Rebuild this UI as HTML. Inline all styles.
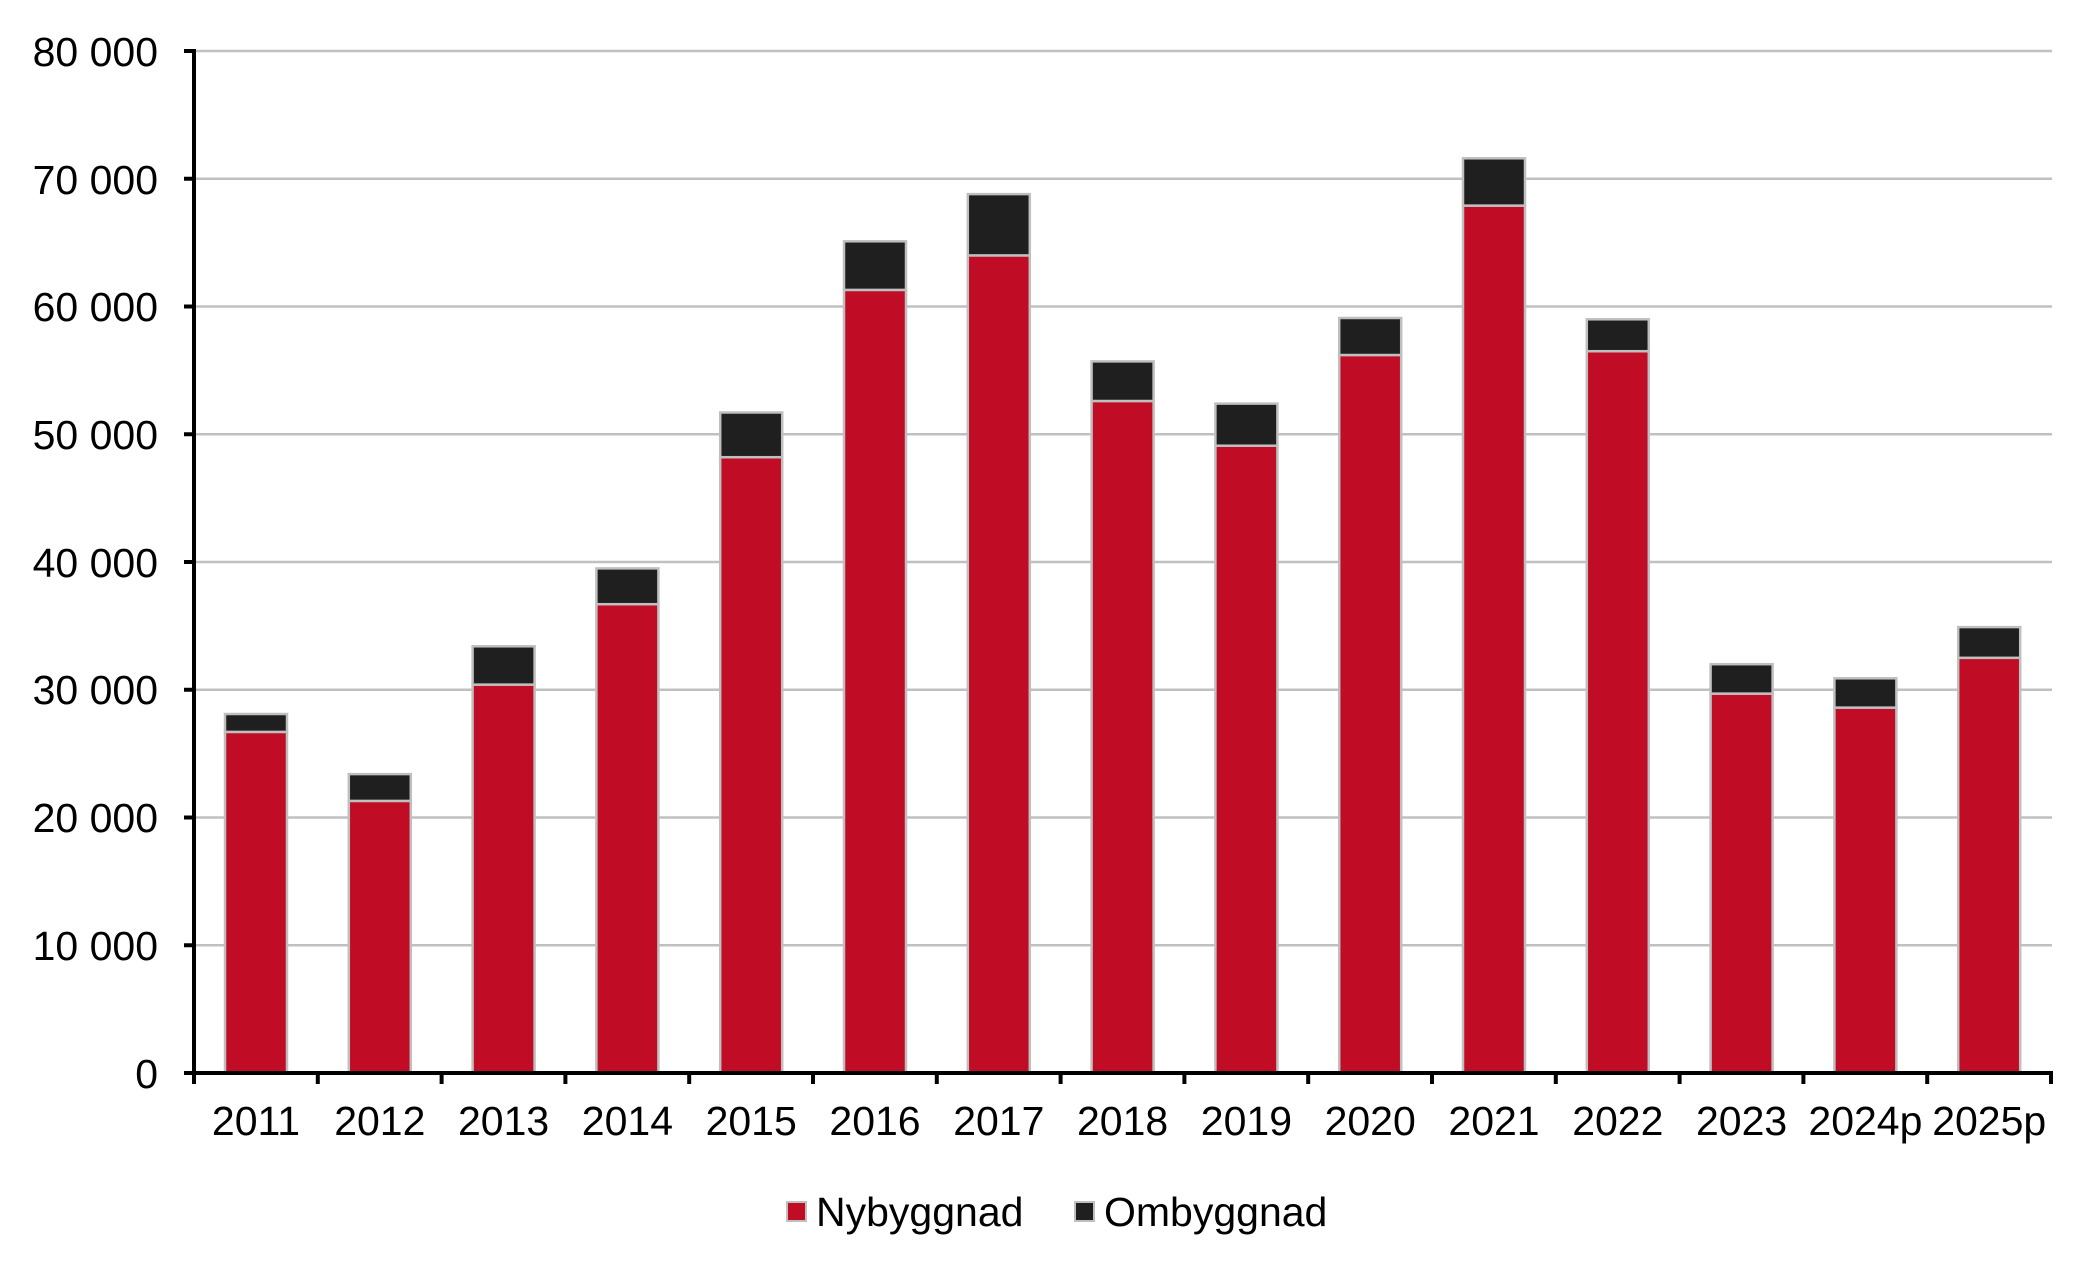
<!DOCTYPE html>
<html><head><meta charset="utf-8"><style>
html,body{margin:0;padding:0;background:#fff;}
svg{display:block;font-family:"Liberation Sans",Arial,sans-serif;}
</style></head><body>
<svg width="2079" height="1262" viewBox="0 0 2079 1262" xmlns="http://www.w3.org/2000/svg">
<g stroke="#c0c0c0" stroke-width="2.5">
<line x1="194" y1="51" x2="2052" y2="51"/>
<line x1="194" y1="178.75" x2="2052" y2="178.75"/>
<line x1="194" y1="306.5" x2="2052" y2="306.5"/>
<line x1="194" y1="434.25" x2="2052" y2="434.25"/>
<line x1="194" y1="562" x2="2052" y2="562"/>
<line x1="194" y1="689.75" x2="2052" y2="689.75"/>
<line x1="194" y1="817.5" x2="2052" y2="817.5"/>
<line x1="194" y1="945.25" x2="2052" y2="945.25"/>
</g>
<g stroke="#bfbfbf" stroke-width="2.5">
<rect x="225" y="731.9" width="62" height="341.1" fill="#c00d25"/><rect x="225" y="714" width="62" height="17.9" fill="#1f1f1f"/>
<rect x="348.8" y="800.9" width="62" height="272.1" fill="#c00d25"/><rect x="348.8" y="774.1" width="62" height="26.8" fill="#1f1f1f"/>
<rect x="472.6" y="684.6" width="62" height="388.4" fill="#c00d25"/><rect x="472.6" y="646.3" width="62" height="38.3" fill="#1f1f1f"/>
<rect x="596.4" y="604.2" width="62" height="468.8" fill="#c00d25"/><rect x="596.4" y="568.4" width="62" height="35.8" fill="#1f1f1f"/>
<rect x="720.2" y="457.2" width="62" height="615.8" fill="#c00d25"/><rect x="720.2" y="412.5" width="62" height="44.7" fill="#1f1f1f"/>
<rect x="844" y="289.9" width="62" height="783.1" fill="#c00d25"/><rect x="844" y="241.3" width="62" height="48.6" fill="#1f1f1f"/>
<rect x="967.8" y="255.4" width="62" height="817.6" fill="#c00d25"/><rect x="967.8" y="194.1" width="62" height="61.3" fill="#1f1f1f"/>
<rect x="1091.6" y="401" width="62" height="672" fill="#c00d25"/><rect x="1091.6" y="361.4" width="62" height="39.6" fill="#1f1f1f"/>
<rect x="1215.4" y="445.7" width="62" height="627.3" fill="#c00d25"/><rect x="1215.4" y="403.6" width="62" height="42.1" fill="#1f1f1f"/>
<rect x="1339.2" y="355" width="62" height="718" fill="#c00d25"/><rect x="1339.2" y="318" width="62" height="37" fill="#1f1f1f"/>
<rect x="1463" y="205.6" width="62" height="867.4" fill="#c00d25"/><rect x="1463" y="158.3" width="62" height="47.3" fill="#1f1f1f"/>
<rect x="1586.8" y="351.2" width="62" height="721.8" fill="#c00d25"/><rect x="1586.8" y="319.3" width="62" height="31.9" fill="#1f1f1f"/>
<rect x="1710.6" y="693.6" width="62" height="379.4" fill="#c00d25"/><rect x="1710.6" y="664.2" width="62" height="29.4" fill="#1f1f1f"/>
<rect x="1834.4" y="707.6" width="62" height="365.4" fill="#c00d25"/><rect x="1834.4" y="678.3" width="62" height="29.3" fill="#1f1f1f"/>
<rect x="1958.2" y="657.8" width="62" height="415.2" fill="#c00d25"/><rect x="1958.2" y="627.1" width="62" height="30.7" fill="#1f1f1f"/>
</g>
<g stroke="#000" stroke-width="4">
<line x1="194" y1="49" x2="194" y2="1075"/>
<line x1="192" y1="1073" x2="2053" y2="1073"/>
<line x1="184" y1="51" x2="194" y2="51"/><line x1="184" y1="178.75" x2="194" y2="178.75"/>
<line x1="184" y1="306.5" x2="194" y2="306.5"/><line x1="184" y1="434.25" x2="194" y2="434.25"/>
<line x1="184" y1="562" x2="194" y2="562"/><line x1="184" y1="689.75" x2="194" y2="689.75"/>
<line x1="184" y1="817.5" x2="194" y2="817.5"/><line x1="184" y1="945.25" x2="194" y2="945.25"/>
<line x1="184" y1="1073" x2="194" y2="1073"/>
<line x1="194" y1="1073" x2="194" y2="1084"/><line x1="317.8" y1="1073" x2="317.8" y2="1084"/>
<line x1="441.6" y1="1073" x2="441.6" y2="1084"/><line x1="565.4" y1="1073" x2="565.4" y2="1084"/>
<line x1="689.2" y1="1073" x2="689.2" y2="1084"/><line x1="813" y1="1073" x2="813" y2="1084"/>
<line x1="936.8" y1="1073" x2="936.8" y2="1084"/><line x1="1060.6" y1="1073" x2="1060.6" y2="1084"/>
<line x1="1184.4" y1="1073" x2="1184.4" y2="1084"/><line x1="1308.2" y1="1073" x2="1308.2" y2="1084"/>
<line x1="1432" y1="1073" x2="1432" y2="1084"/><line x1="1555.8" y1="1073" x2="1555.8" y2="1084"/>
<line x1="1679.6" y1="1073" x2="1679.6" y2="1084"/><line x1="1803.4" y1="1073" x2="1803.4" y2="1084"/>
<line x1="1927.2" y1="1073" x2="1927.2" y2="1084"/><line x1="2051" y1="1073" x2="2051" y2="1084"/>
</g>
<g font-size="41" text-anchor="end" fill="#000">
<text x="158" y="66">80 000</text>
<text x="158" y="194">70 000</text>
<text x="158" y="321">60 000</text>
<text x="158" y="449">50 000</text>
<text x="158" y="577">40 000</text>
<text x="158" y="704">30 000</text>
<text x="158" y="832">20 000</text>
<text x="158" y="960">10 000</text>
<text x="158" y="1088">0</text>
</g>
<g font-size="41" text-anchor="middle" fill="#000">
<text x="256" y="1135">2011</text><text x="379.8" y="1135">2012</text>
<text x="503.6" y="1135">2013</text><text x="627.4" y="1135">2014</text>
<text x="751.2" y="1135">2015</text><text x="875" y="1135">2016</text>
<text x="998.8" y="1135">2017</text><text x="1122.6" y="1135">2018</text>
<text x="1246.4" y="1135">2019</text><text x="1370.2" y="1135">2020</text>
<text x="1494" y="1135">2021</text><text x="1617.8" y="1135">2022</text>
<text x="1741.6" y="1135">2023</text><text x="1865.4" y="1135">2024p</text>
<text x="1989.2" y="1135">2025p</text>
</g>
<rect x="787" y="1202" width="19" height="19" fill="#c00d25" stroke="#bfbfbf" stroke-width="2"/>
<text x="816" y="1226" font-size="41">Nybyggnad</text>
<rect x="1075" y="1202" width="19" height="19" fill="#1f1f1f" stroke="#bfbfbf" stroke-width="2"/>
<text x="1104" y="1226" font-size="41">Ombyggnad</text>
</svg>
</body></html>
